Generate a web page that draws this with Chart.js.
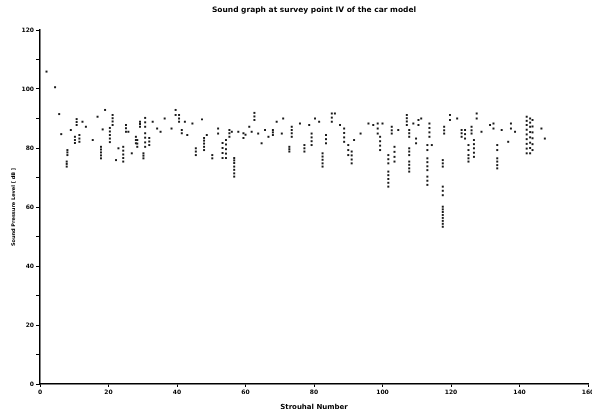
<!DOCTYPE html>
<html>
<head>
<meta charset="utf-8">
<script src="https://cdn.jsdelivr.net/npm/chart.js@4"></script>
<style>
  html, body { margin: 0; padding: 0; background: #fff; }
  #wrap { width: 592px; height: 417px; position: relative; }
</style>
</head>
<body>
<div id="wrap"><canvas id="myChart"></canvas></div>
<script>
// data: [strouhal, SPL dB]
const band0to40 = [
  [1.9,105.9],[4.4,100.6],[5.6,91.5],[6.2,84.7],
  [7.8,73.7],[7.8,74.6],[7.8,75.4],[8,77.6],[8,78.5],[8,79.3],
  [9,86.1],[10.2,81.7],[10.2,82.7],[10.2,83.8],[10.7,87.8],[10.7,88.8],[10.7,89.8],
  [11.5,82.1],[11.5,83.2],[11.5,84.4],[12.4,88.9],[13.4,87.2],[15.4,82.7],[16.8,90.6],
  [17.8,76.5],[17.8,77.5],[17.8,78.5],[17.8,79.5],[17.8,80.4],[18.3,86.3],[19,92.9],
  [20.4,82],[20.4,83.2],[20.4,84.4],[20.4,85.6],[20.4,86.8],
  [21.2,87.8],[21.2,89],[21.2,90.1],[21.2,91.2],[22.2,75.9],[22.9,79.9],
  [24.3,75.4],[24.3,76.6],[24.3,77.8],[24.3,79.1],[24.3,80.4],
  [25.1,85.5],[25.1,86.7],[25.1,87.8],[25.8,85.5],[26.8,78.2],
  [28,81.6],[28,82.7],[28,83.8],[28.4,80.4],[28.4,81.5],[28.4,82.7],
  [29.2,87.2],[29.2,88.1],[29.2,88.9],[30.2,76.5],[30.2,77.4],[30.2,78.2],
  [30.7,87.2],[30.7,88.7],[30.7,90.2],[30.7,80.4],[30.7,81.9],[30.7,83.5],[30.7,85],
  [31.9,81],[31.9,82.2],[31.9,83.4],[32.9,88.9],[34.2,86.6],[35.2,85.5],[36.4,90],
  [38.4,86.6],[39.6,91.2],[39.6,92.9]
];
const band40to80 = [
  [40.6,88.9],[40.6,90],[40.6,91.2],[41.4,85],[41.4,86.1],[42.3,88.9],[43,84.4],[44.5,88.3],
  [45.5,77.6],[45.5,78.8],[45.5,79.9],[47.3,89.7],
  [47.9,79.3],[47.9,80.4],[47.9,81.5],[47.9,82.5],[47.9,83.4],[48.7,84.4],
  [50.3,76.5],[50.3,77.6],[52,84.9],[52,86.6],
  [53.3,76.6],[53.3,78.3],[53.3,80],[53.3,81.7],
  [54.3,76.6],[54.3,78.1],[54.3,79.6],[54.3,81.2],[54.3,82.7],
  [55.3,83.8],[55.3,85],[55.3,86.1],[56,85.5],
  [56.7,70.3],[56.7,71.4],[56.7,72.6],[56.7,73.7],[56.7,74.9],[56.7,75.8],[56.7,76.6],
  [57.9,85.5],[59.4,83.4],[59.4,85],[60,84.5],[61.1,87.2],[61.8,85.5],
  [62.6,89.5],[62.6,90.7],[62.6,91.9],[63.7,84.9],[64.7,81.6],[65.7,86.1],[66.7,83.8],
  [68,84.4],[68,85.3],[68,86.1],[69.1,88.9],[70.6,84.9],[71,90],
  [72.8,78.8],[72.8,79.6],[72.8,80.4],[73.5,83.8],[73.5,85],[73.5,86.1],[73.5,87.2],
  [75.9,88.3],[77.2,78.8],[77.2,79.9],[77.2,81],[78.6,87.8],
  [79.3,81],[79.3,82.3],[79.3,83.6],[79.3,84.9]
];
const band80to120 = [
  [80.3,90],[81.5,88.9],[82.5,73.7],[82.5,74.8],[82.5,76],[82.5,77.1],[82.5,78.2],
  [83.5,81.6],[83.5,83],[83.5,84.4],[85.2,88.9],[85.2,90.3],[85.2,91.7],[86.1,91.7],[87.6,87.8],
  [88.8,82.1],[88.8,83.6],[88.8,85.1],[88.8,86.6],[90,77.6],[90,79.3],[90,81],
  [91,74.8],[91,76.1],[91,77.5],[91,78.8],[91.7,82.7],[93.6,84.9],[95.9,88.3],[97.3,87.8],
  [98.6,84.9],[98.6,86.6],[98.6,88.3],[99.3,79.3],[99.3,80.8],[99.3,82.3],[99.3,83.8],[100,88.3],
  [101.7,66.9],[101.7,68.2],[101.7,69.5],[101.7,70.8],[101.7,72],[101.7,74.8],[101.7,76.2],[101.7,77.6],
  [102.7,84.9],[102.7,86],[102.7,87.2],[103.5,75.4],[103.5,77],[103.5,78.7],[103.5,80.4],[104.6,86.1],
  [107.1,87.8],[107.1,89],[107.1,90.1],[107.1,91.2],
  [107.8,83.8],[107.8,85],[107.8,86.1],[107.8,77.6],[107.8,78.8],[107.8,79.9],
  [107.8,72],[107.8,73.1],[107.8,74.3],[107.8,75.4],
  [109,88.3],[109.8,81.6],[109.8,83.2],[110.5,87.8],[110.5,89.5],[111.3,90],
  [113.7,83.8],[113.7,85.3],[113.7,86.8],[113.7,88.3],[113.1,79.3],[113.1,81],
  [113.1,72.5],[113.1,73.8],[113.1,75.2],[113.1,76.5],[113.1,67.5],[113.1,68.9],[113.1,70.3],
  [114.4,81],[117.6,73.7],[117.6,74.8],[117.6,75.9],[117.6,64],[117.6,65.5],[117.6,66.9],
  [117.6,53.3],[117.6,54.3],[117.6,55.3],[117.6,56.3],[117.6,57.3],[117.6,58.3],[117.6,59.2],[117.6,60.1],
  [118,84.9],[118,86],[118,87.2],[119.7,89.5],[119.7,91.2]
];
const band120to150 = [
  [121.8,90],[123.1,83.8],[123.1,85],[123.1,86.1],[124.1,83.2],[124.1,84.7],[124.1,86.1],
  [125.1,79.3],[125.1,81],[125.1,75.4],[125.1,76.5],[125.1,77.6],[126,84.9],[126,86],[126,87.2],
  [126.7,77],[126.7,78.4],[126.7,79.9],[126.7,81.3],[126.7,82.7],[127.5,90],[127.5,91.7],
  [128.9,85.5],[131.4,87.8],[132.4,86.6],[132.4,88.3],[133.5,79.3],[133.5,81],
  [133.5,73.1],[133.5,74.2],[133.5,75.4],[133.5,76.5],[134.8,86.1],[136.7,82.1],
  [137.5,86.6],[137.5,88.3],[138.7,85.5],
  [142.1,78.2],[142.1,79.8],[142.1,81.4],[142.1,83],[142.1,84.6],[142.1,86.2],[142.1,87.8],[142.1,89.2],[142.1,90.6],
  [143.1,78.2],[143.1,80],[143.1,81.8],[143.1,83.6],[143.1,85.4],[143.1,87.2],[143.1,88.6],[143.1,90],
  [143.8,79.3],[143.8,81.3],[143.8,83.3],[143.8,85.3],[143.8,87.3],[143.8,89.5],
  [146.4,86.6],[147.4,83.2]
];
const xTicks = [0, 20, 40, 60, 80, 100, 120, 140, 160];
const yTicks = [0, 10, 20, 30, 40, 50, 60, 70, 80, 90, 100, 110, 120];
const yLabelled = [0, 20, 40, 60, 80, 100, 120];

const titleText = 'Sound graph at survey point IV of the car model';
const fontFam = '"DejaVu Sans", sans-serif';

const points = band0to40.concat(band40to80, band80to120, band120to150)
  .map(p => ({x: p[0], y: p[1]}));

// title centred over the plot area, like the original
const titlePlugin = {
  id: 'plotTitle',
  afterDraw(chart) {
    const {ctx, chartArea} = chart;
    ctx.save();
    ctx.font = 'bold 7.5px ' + fontFam;
    ctx.fillStyle = '#000';
    ctx.textAlign = 'center';
    ctx.textBaseline = 'middle';
    ctx.fillText(titleText, (chartArea.left + chartArea.right) / 2, 10);
    ctx.restore();
  }
};

const ctx = document.getElementById('myChart');

new Chart(ctx, {
  type: 'scatter',
  data: {
    datasets: [{
      data: points,
      pointStyle: 'rect',
      pointRadius: 1.4,
      pointBackgroundColor: '#1a1a1a',
      pointBorderWidth: 0,
      pointBorderColor: '#1a1a1a'
    }]
  },
  options: {
    responsive: true,
    maintainAspectRatio: false,
    animation: false,
    layout: { padding: { top: 30, right: 4, left: 0, bottom: 0 } },
    plugins: {
      legend: { display: false },
      tooltip: { enabled: false },
      title: { display: false }
    },
    scales: {
      x: {
        type: 'linear',
        min: 0, max: 160,
        afterBuildTicks: s => { s.ticks = xTicks.map(v => ({value: v})); },
        afterFit: s => { s.height = 33; s.paddingRight = 0; s.paddingLeft = 0; },
        border: { display: true, color: '#000', width: 1.5 },
        grid: { display: true, drawOnChartArea: false, drawTicks: true, tickLength: 3, color: '#000' },
        ticks: { color: '#000', padding: 2, maxRotation: 0, font: { family: fontFam, size: 6, weight: 'bold' } },
        title: { display: true, text: 'Strouhal Number', color: '#000', padding: { top: 0, bottom: 6 },
                 font: { family: fontFam, size: 7, weight: 'bold' } }
      },
      y: {
        min: 0, max: 120,
        afterBuildTicks: s => { s.ticks = yTicks.map(v => ({value: v})); },
        afterFit: s => { s.width = 40; s.paddingTop = 0; s.paddingBottom = 0; },
        border: { display: true, color: '#000', width: 1.5 },
        grid: { display: true, drawOnChartArea: false, drawTicks: true, tickLength: 4, color: '#000' },
        ticks: {
          color: '#000', padding: 2, autoSkip: false,
          font: { family: fontFam, size: 6, weight: 'bold' },
          callback: v => yLabelled.includes(v) ? String(v) : ''
        },
        title: { display: true, text: 'Sound Pressure Level [ dB ]', color: '#000', padding: { top: 11, bottom: 0 },
                 font: { family: fontFam, size: 5, weight: 'bold' } }
      }
    }
  },
  plugins: [titlePlugin]
});
</script>
</body>
</html>
